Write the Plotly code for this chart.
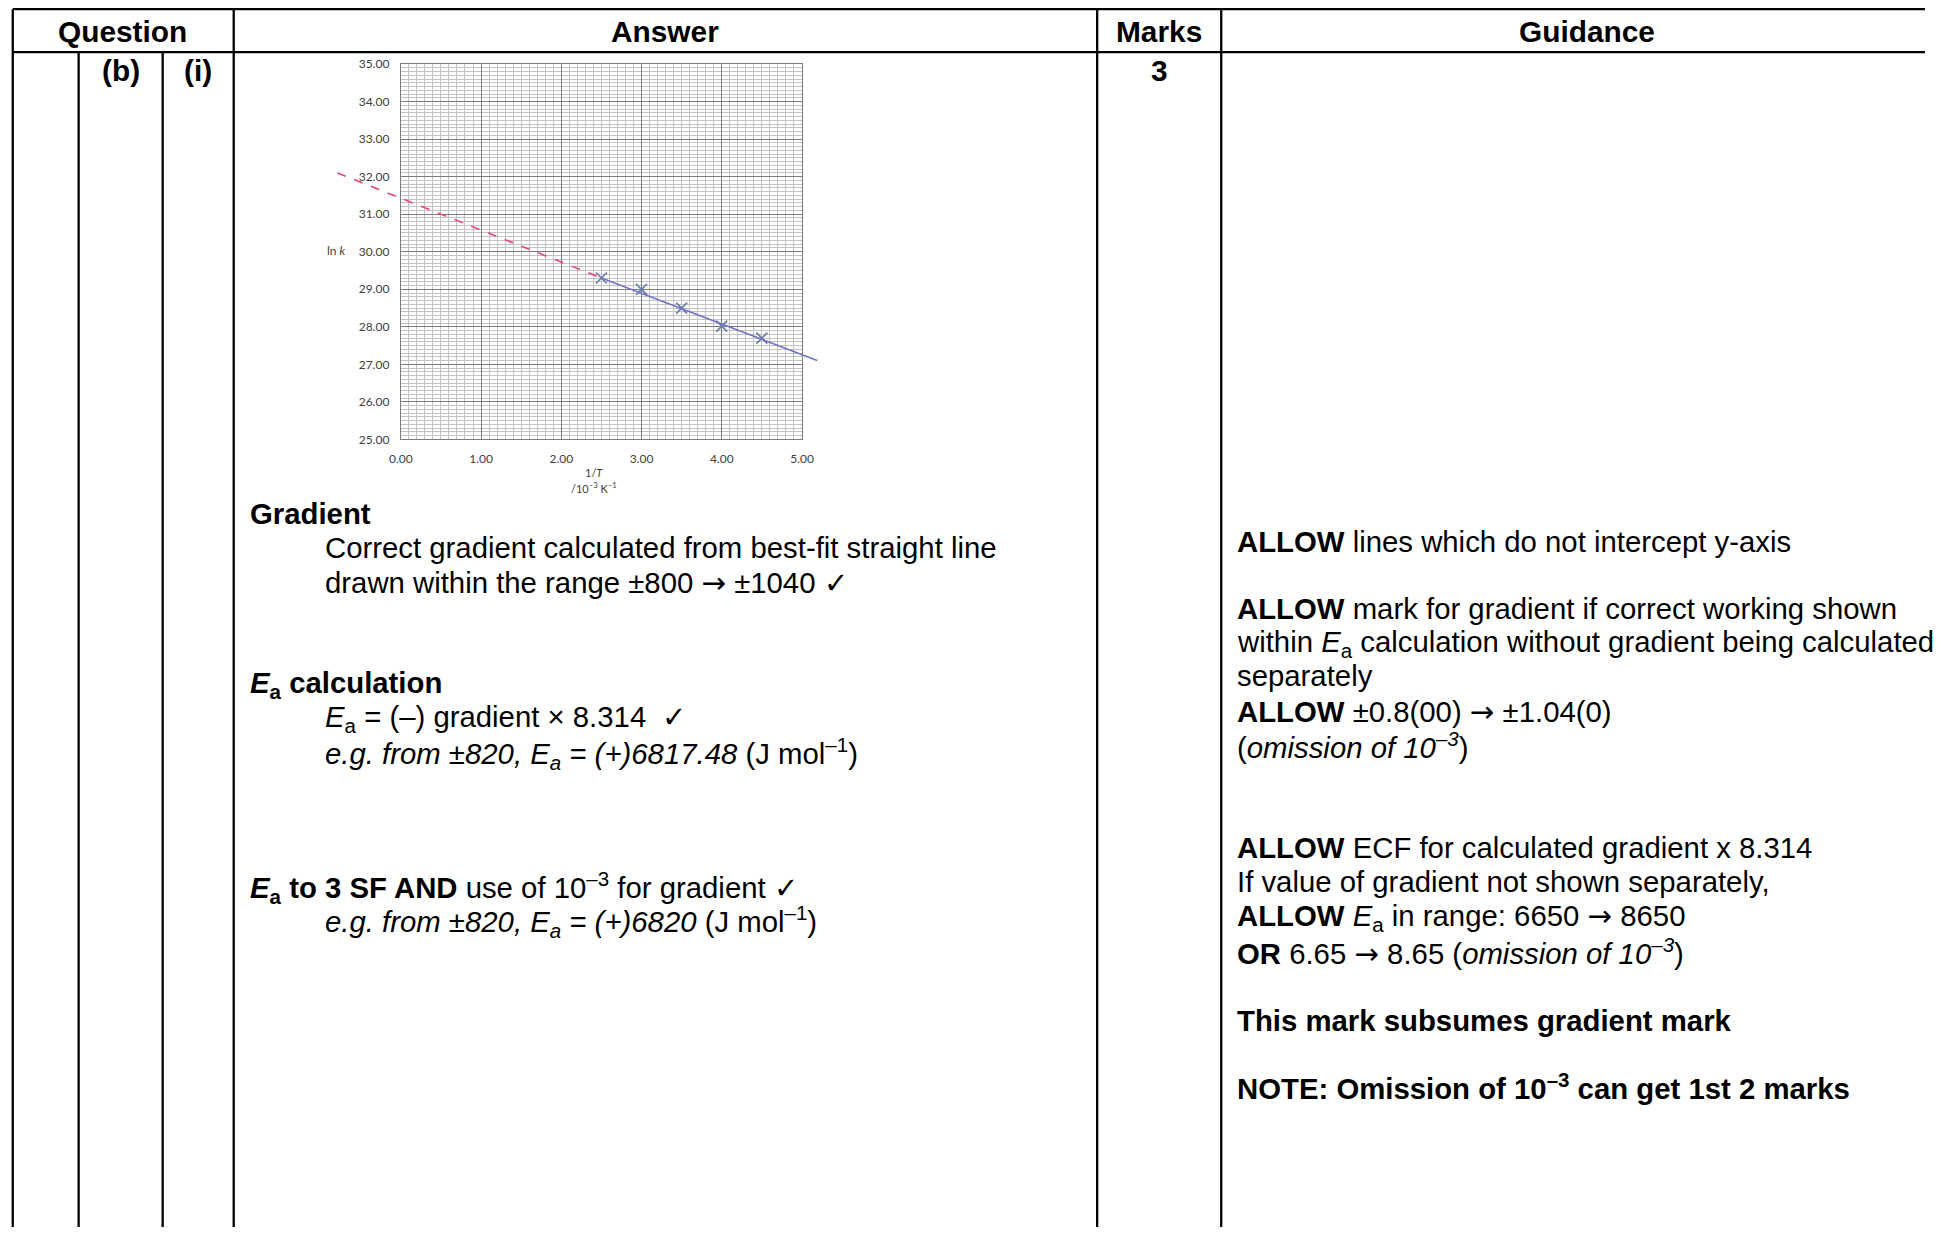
import plotly.graph_objects as go

# ---------------- data ----------------
inv_T = [2.5, 3.0, 3.5, 4.0, 4.5]            # 1/T  /10^-3 K^-1
ln_k = [29.30, 29.00, 28.50, 28.02, 27.70]   # ln k

fit_x = [2.5, 5.19]          # best-fit (solid) line end points
fit_y = [29.30, 27.10]
extrap_x = [-0.79, 2.5]      # extrapolated (dashed) line end points
extrap_y = [32.10, 29.30]

x_ticks = [0, 1, 2, 3, 4, 5]
y_ticks = [25, 26, 27, 28, 29, 30, 31, 32, 33, 34, 35]

ARROW = '<span style="font-family:DejaVu Sans">→</span>'

header_labels = ["Question", "Answer", "Marks", "Guidance"]
row_labels = ["(b)", "(i)", "3"]

answer_lines = [
    "<b>Gradient</b>",
    "Correct gradient calculated from best-fit straight line",
    "drawn within the range ±800 " + ARROW + " ±1040 ✓",
    "<b><i>E</i><sub>a</sub> calculation</b>",
    "<i>E</i><sub>a</sub> = (–) gradient × 8.314  ✓",
    "<i>e.g. from ±820, E<sub>a</sub> = (+)6817.48</i> (J mol<sup>–1</sup>)",
    "<b><i>E</i><sub>a</sub> to 3 SF AND</b> use of 10<sup>–3</sup> for gradient ✓",
    "<i>e.g. from ±820, E<sub>a</sub> = (+)6820</i> (J mol<sup>–1</sup>)",
]
answer_indent = [0, 1, 1, 0, 1, 1, 0, 1]
answer_y = [514, 548, 584, 686, 720, 755, 889, 923]

guidance_lines = [
    "<b>ALLOW</b> lines which do not intercept y-axis",
    "<b>ALLOW</b> mark for gradient if correct working shown",
    "within <i>E</i><sub>a</sub> calculation without gradient being calculated",
    "separately",
    "<b>ALLOW</b> ±0.8(00) " + ARROW + " ±1.04(0)",
    "(<i>omission of 10<sup>–3</sup></i>)",
    "<b>ALLOW</b> ECF for calculated gradient x 8.314",
    "If value of gradient not shown separately,",
    "<b>ALLOW</b> <i>E</i><sub>a</sub> in range: 6650 " + ARROW + " 8650",
    "<b>OR</b> 6.65 " + ARROW + " 8.65 (<i>omission of 10<sup>–3</sup></i>)",
    "<b>This mark subsumes gradient mark</b>",
    "<b>NOTE: Omission of 10<sup>–3</sup> can get 1st 2 marks</b>",
]
guidance_y = [542, 609, 644, 677, 713, 747, 849, 883, 919, 954, 1022, 1088]

# ---------------- layout geometry (pixels of the 1937x1234 target) ----------------
W, H = 1937, 1234
# compensation for the capture padding/scale observed in the rendered picture
OX, SX = 11.4, 0.9871
OY, SY = 7.8, 0.9897
FS = (SX + SY) / 2

PL, PR, PT, PB = 400, 801, 64, 440       # chart plot area (target pixels)
XR, YR = [0, 5], [25, 35]
OV_L, OV_R, OV_T, OV_B = 320, 840, 40, 470  # overlay area for lines leaving the plot


def fx(px):
    return min(max((px - OX) / SX / W, 0.0004), 1.0)


def fy(py):
    return max(min(1 - (py - OY) / SY / H, 0.9996), 0.0)


def px_to_x(px):
    return XR[0] + (px - PL) / (PR - PL) * (XR[1] - XR[0])


def py_to_y(py):
    return YR[0] + (PB - py) / (PB - PT) * (YR[1] - YR[0])


TXT = "Arial, Liberation Sans, sans-serif"
CH = "Lato, Open Sans, sans-serif"
BODY = 29 / FS
HEAD = 29.5 / FS

fig = go.Figure()

# lines (overlay axes so they can extend beyond the grid)
fig.add_trace(go.Scatter(x=extrap_x, y=extrap_y, mode="lines", xaxis="x2", yaxis="y2",
                         line=dict(color="#e8457a", width=1.6, dash="dash"), showlegend=False))
fig.add_trace(go.Scatter(x=fit_x, y=fit_y, mode="lines", xaxis="x2", yaxis="y2",
                         line=dict(color="#7073c8", width=1.6), showlegend=False))
# data points
fig.add_trace(go.Scatter(x=inv_T, y=ln_k, mode="markers", xaxis="x", yaxis="y",
                         marker=dict(symbol="x-thin", size=11,
                                     line=dict(width=1.7, color="#6b7fa6")),
                         showlegend=False))

axis_common = dict(showgrid=True, gridcolor="#7c7c7c", gridwidth=1,
                   zeroline=False, showline=True, linecolor="#7c7c7c", mirror=True,
                   ticks="", tickformat=".2f", ticklabelstandoff=8,
                   tickfont=dict(family=CH, size=12, color="#404040"))

fig.update_layout(
    width=W, height=H,
    margin=dict(l=0, r=0, t=0, b=0, pad=0),
    paper_bgcolor="white", plot_bgcolor="rgba(0,0,0,0)",
    xaxis=dict(domain=[fx(PL), fx(PR)], range=XR, tickvals=x_ticks, anchor="y",
               minor=dict(dtick=0.1, showgrid=True, gridcolor="#c2c2c2", gridwidth=1),
               **axis_common),
    yaxis=dict(domain=[fy(PB), fy(PT)], range=YR, tickvals=y_ticks, anchor="x",
               minor=dict(dtick=0.1, showgrid=True, gridcolor="#c2c2c2", gridwidth=1),
               **axis_common),
    xaxis2=dict(domain=[fx(OV_L), fx(OV_R)], range=[px_to_x(OV_L), px_to_x(OV_R)],
                visible=False, anchor="y2"),
    yaxis2=dict(domain=[fy(OV_B), fy(OV_T)], range=[py_to_y(OV_B), py_to_y(OV_T)],
                visible=False, anchor="x2"),
)

ann = []


def text(px, py, s, size=BODY, xanchor="left", family=TXT, color="black"):
    ann.append(dict(x=fx(px), y=fy(py), xref="paper", yref="paper", text=s,
                    showarrow=False, xanchor=xanchor, yanchor="middle",
                    font=dict(family=family, size=size, color=color)))


# chart axis labels
text(336, 251, "ln <i>k</i>", size=12, xanchor="center", family=CH, color="#404040")
text(593, 473, "1/<i>T</i>", size=11, xanchor="center", family=CH, color="#404040")
text(593, 488, "/10<sup>–3</sup> K<sup>–1</sup>", size=11, xanchor="center", family=CH, color="#404040")

# table headers
for lab, cx in zip(header_labels, [122, 664.5, 1158, 1586]):
    text(cx, 31, "<b>%s</b>" % lab, size=HEAD, xanchor="center")
for lab, cx in zip(row_labels, [120, 197.5, 1158]):
    text(cx, 70, "<b>%s</b>" % lab, size=HEAD, xanchor="center")

for s, ind, yy in zip(answer_lines, answer_indent, answer_y):
    text(247 + ind * 75, yy, s)
for s, yy in zip(guidance_lines, guidance_y):
    text(1234, yy, s)

fig.update_layout(annotations=ann)

# table rules
shapes = []


def rule(x0, y0, x1, y1):
    shapes.append(dict(type="line", xref="paper", yref="paper",
                       x0=fx(x0), y0=fy(y0), x1=fx(x1), y1=fy(y1),
                       line=dict(color="black", width=2.3)))


rule(11, 9, W + 40, 9)
rule(11, 52, W + 40, 52)
for vx, top in [(11, 9), (78, 52), (162, 52), (233, 9), (1096, 9), (1220, 9)]:
    rule(vx, top, vx, H + 40)
fig.update_layout(shapes=shapes)

fig.write_html(
    "out.html",
    config={"displayModeBar": False},
    post_script="document.body.style.margin='0';document.body.style.overflow='hidden';"
                "document.documentElement.style.overflow='hidden';",
)
